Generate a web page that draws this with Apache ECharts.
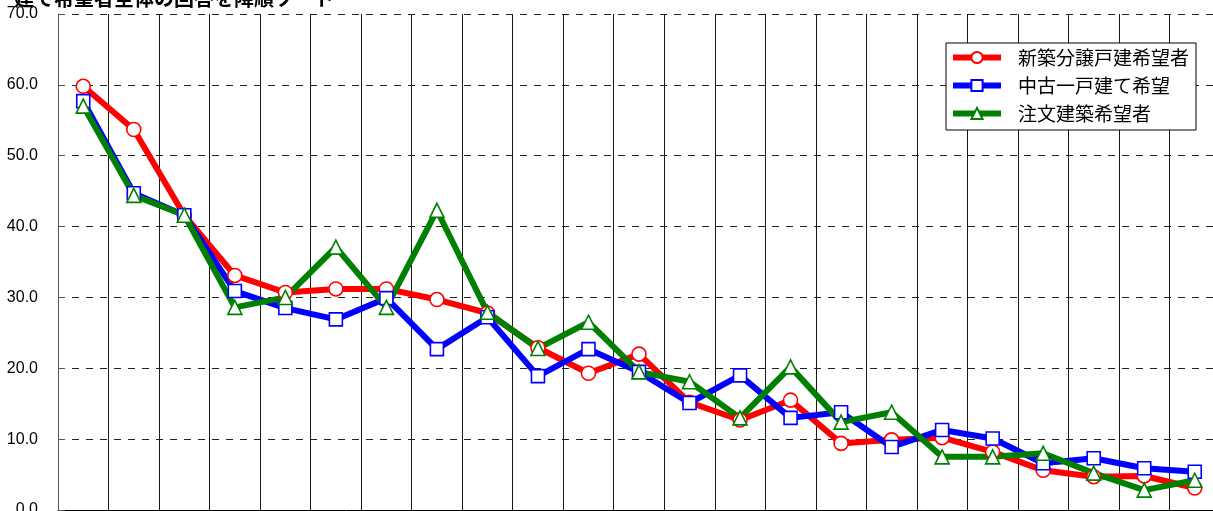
<!DOCTYPE html>
<html><head><meta charset="utf-8">
<script src="https://cdn.jsdelivr.net/npm/echarts@6/dist/echarts.min.js"></script>
<style>html,body{margin:0;padding:0;background:#fff;}#c{width:1213px;height:511px;}</style>
</head><body><div id="c"></div>
<script>
var titleText = '建て希望者全体の回答を降順ソート';
var categories = ['1','2','3','4','5','6','7','8','9','10','11','12','13','14','15','16','17','18','19','20','21','22','23'];
var seriesNames = ['新築分譲戸建希望者','中古一戸建て希望','注文建築希望者'];
var newBuilt = [59.8,53.7,41.6,33.1,30.7,31.2,31.2,29.7,27.8,22.9,19.3,22.0,15.2,12.7,15.5,9.4,9.9,10.2,8.2,5.6,4.7,4.8,3.1];
var used = [57.7,44.7,41.6,30.9,28.5,26.9,29.9,22.7,27.2,18.9,22.7,19.5,15.1,19.0,13.0,13.8,8.9,11.3,10.1,6.6,7.3,5.9,5.4];
var custom = [57.0,44.4,41.6,28.6,30.0,37.1,28.6,42.3,27.9,22.8,26.5,19.5,18.1,13.0,20.2,12.4,13.8,7.5,7.5,8.0,5.2,2.8,4.2];

var chart = echarts.init(document.getElementById('c'));
function mk(name, data, color, symbol, size){
  return {
    name: name, type: 'line', data: data,
    symbol: symbol, symbolSize: size, showSymbol: true,
    lineStyle: {color: color, width: 6},
    itemStyle: {color: '#fff', borderColor: color, borderWidth: 1.6},
    emphasis: {disabled: true}
  };
}
chart.setOption({
  animation: false,
  backgroundColor: '#fff',
  title: {text: titleText, left: 9, top: -17,
    textStyle: {fontSize: 20, fontWeight: 'bold', color: '#000', fontFamily: 'Noto Sans CJK JP'}},
  grid: {left: 58, top: 14, width: 1162, height: 496, containLabel: false, outerBoundsMode: 'none'},
  legend: {
    orient: 'vertical', left: 946, top: 43,
    backgroundColor: '#fff', borderColor: '#000', borderWidth: 1,
    padding: [5, 7, 7, 4], itemGap: 9, itemWidth: 48, itemHeight: 14,
    lineStyle: {width: 6},
    textStyle: {fontSize: 19, lineHeight: 18, color: '#000', fontFamily: 'Noto Sans CJK JP', padding: [0,0,0,12]},
    data: seriesNames
  },
  xAxis: {
    type: 'category', data: categories, boundaryGap: true,
    axisLine: {show: true, lineStyle: {color: '#000', width: 1}},
    axisTick: {show: false},
    axisLabel: {show: false},
    splitLine: {show: true, lineStyle: {color: '#1a1a1a', width: 1}}
  },
  yAxis: {
    type: 'value', min: 0, max: 70, interval: 10,
    axisLine: {show: true, lineStyle: {color: '#555', width: 1}},
    axisTick: {show: true, inside: true, length: 7, lineStyle: {color: '#555'}},
    axisLabel: {formatter: function(v){return v.toFixed(1);}, fontSize: 16, color: '#000',
      fontFamily: 'Liberation Sans', margin: 20},
    splitLine: {show: true, lineStyle: {color: '#222', width: 1, type: [7, 7]}}
  },
  series: [
    mk(seriesNames[0], newBuilt, '#ff0000', 'circle', 14),
    mk(seriesNames[1], used, '#0000ff', 'rect', 13),
    mk(seriesNames[2], custom, '#008000', 'triangle', 14)
  ]
});
</script></body></html>
